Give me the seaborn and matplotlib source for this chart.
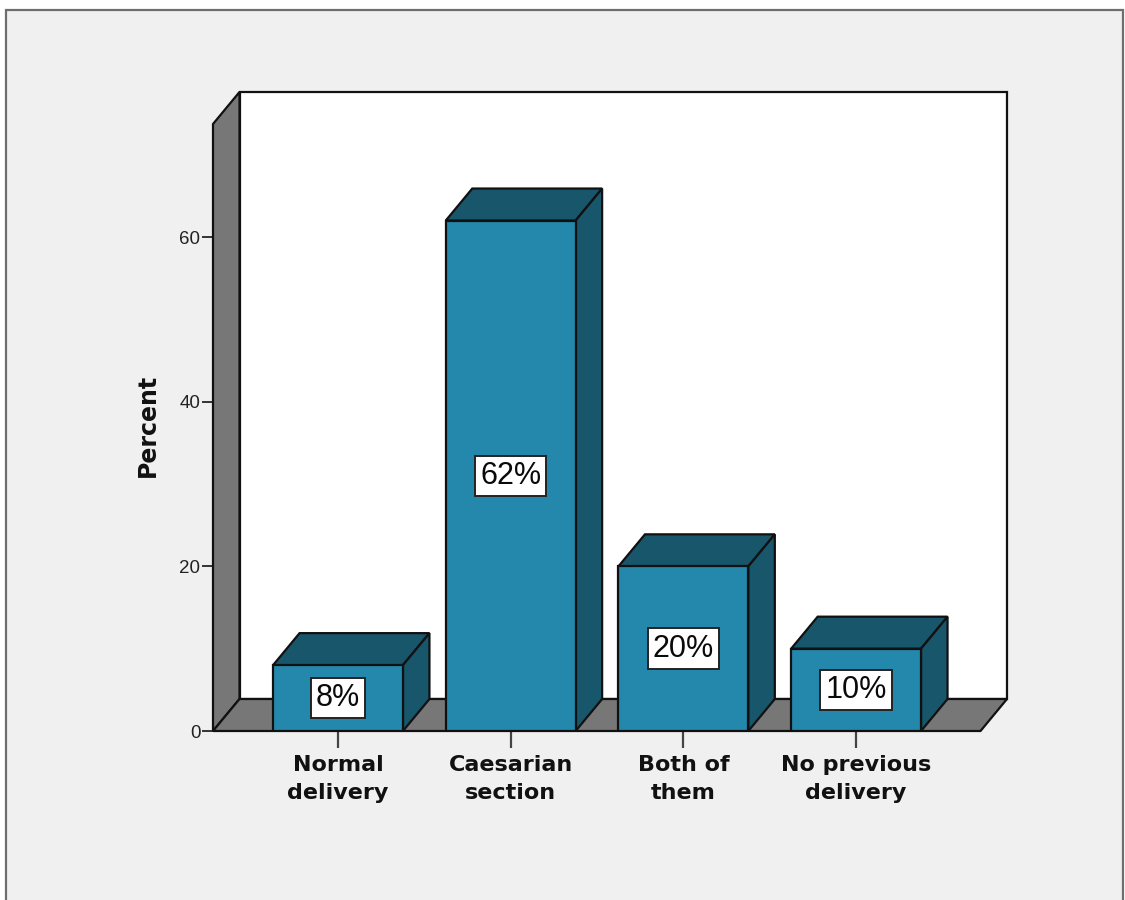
import matplotlib
matplotlib.use("Agg")
import matplotlib.pyplot as plt
from matplotlib.patches import Polygon, Rectangle
import pandas as pd
import seaborn as sns

categories = ["Normal\ndelivery", "Caesarian\nsection", "Both of\nthem", "No previous\ndelivery"]
percents = [8, 62, 20, 10]
y_ticks = [0, 20, 40, 60]

FRONT = "#2388AC"
DARK = "#17566B"
WALL = "#777777"
PANEL = "#F0F0F0"
EDGE = "#111111"

W, H = 1125, 900
sns.set_theme(style="white")
plt.rcParams["font.family"] = ["DejaVu Sans"]

fig = plt.figure(figsize=(W / 100, H / 100), dpi=100, facecolor="white")
fig.add_artist(Rectangle((6 / W, -0.02), 1117 / W, 1.02 - 10 / H, transform=fig.transFigure,
                         facecolor=PANEL, edgecolor="#6E6E6E", linewidth=1.6, zorder=-5))

# axes spans the floor/back wall region, pixels 213..1007 and 92..731
ax = fig.add_axes([213 / W, 1 - 731 / H, (1007 - 213) / W, (731 - 92) / H], zorder=2)
ax.patch.set_alpha(0)

px_per_cat = 172.7
px_per_unit = 494 / 60
x_low = -125 / px_per_cat
x_high = x_low + (1007 - 213) / px_per_cat
y_high = (731 - 92) / px_per_unit
dx = 26.5 / px_per_cat
dy = 32 / px_per_unit
y_wall = (731 - 124) / px_per_unit

df = pd.DataFrame({"category": categories, "percent": percents})
sns.barplot(data=df, x="category", y="percent", width=0.752, color=FRONT, saturation=1,
            edgecolor=EDGE, linewidth=1.6, zorder=4, ax=ax)
ax.set_xlim(x_low, x_high)
ax.set_ylim(0, y_high)

# walls
ax.add_patch(Polygon([(x_low + dx, dy), (x_high, dy), (x_high, y_high), (x_low + dx, y_high)],
                     facecolor="white", edgecolor=EDGE, linewidth=1.6, zorder=1, clip_on=False))
ax.add_patch(Polygon([(x_low, 0), (x_low + dx, dy), (x_low + dx, y_high), (x_low, y_wall)],
                     facecolor=WALL, edgecolor=EDGE, linewidth=1.6, zorder=1.5, clip_on=False))
ax.add_patch(Polygon([(x_low, 0), (x_high - dx, 0), (x_high, dy), (x_low + dx, dy)],
                     facecolor=WALL, edgecolor=EDGE, linewidth=1.6, zorder=1.5, clip_on=False))

# 3-D faces of each bar, and labels
half = 0.752 / 2
for i, v in enumerate(percents):
    l, r = i - half, i + half
    ax.add_patch(Polygon([(l, v), (r, v), (r + dx, v + dy), (l + dx, v + dy)],
                         facecolor=DARK, edgecolor=EDGE, linewidth=1.6, zorder=3, clip_on=False))
    ax.add_patch(Polygon([(r, 0), (r + dx, dy), (r + dx, v + dy), (r, v)],
                         facecolor=DARK, edgecolor=EDGE, linewidth=1.6, zorder=3, clip_on=False))
    ax.text(i, v / 2, f"{v}%", ha="center", va="center", fontsize=22, color="#0A0A0A", zorder=6,
            fontfamily="Liberation Sans",
            bbox=dict(boxstyle="square,pad=0.17", facecolor="white", edgecolor="#222222", linewidth=1.4))

for s in ax.spines.values():
    s.set_visible(False)
ax.set_xticks(range(len(categories)))
ax.set_xticklabels(categories, fontsize=16, fontweight="bold", color="#111111", linespacing=1.52)
ax.set_yticks(y_ticks)
ax.set_yticklabels([str(t) for t in y_ticks], fontsize=13.5, color="#222222",
                   fontfamily="Liberation Sans")
ax.tick_params(axis="x", length=12, width=1.6, color="#444444", pad=5, bottom=True)
ax.tick_params(axis="y", length=8, width=1.4, color="#333333", pad=1, left=True)
ax.set_xlabel("")
ax.set_ylabel("Percent", fontsize=17, fontweight="bold", color="#111111")
ax.yaxis.set_label_coords((160 - 213) / (1007 - 213), (731 - 425) / (731 - 92))

fig.savefig("out.png", dpi=100, facecolor=fig.get_facecolor())
